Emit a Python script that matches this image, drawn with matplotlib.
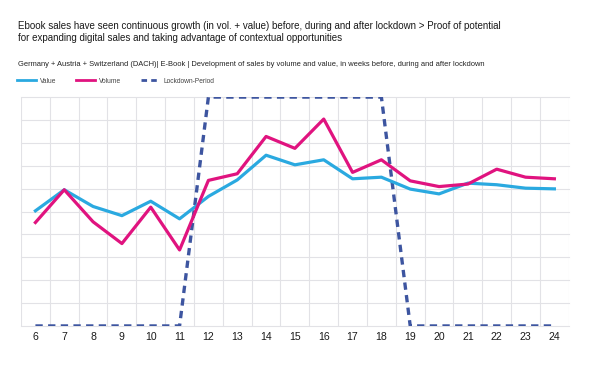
import matplotlib.pyplot as plt
from matplotlib.lines import Line2D

# weeks of the year
weeks = list(range(6, 25))

# index values (0-10 scale, no axis labels shown)
value = [5.03, 5.95, 5.22, 4.82, 5.45, 4.68, 5.66, 6.38, 7.46, 7.04,
         7.26, 6.43, 6.50, 5.98, 5.77, 6.24, 6.17, 6.02, 5.99]
volume = [4.52, 5.95, 4.55, 3.60, 5.19, 3.32, 6.36, 6.65, 8.28, 7.76,
          9.04, 6.71, 7.26, 6.34, 6.09, 6.20, 6.85, 6.50, 6.43]
lockdown = [0, 0, 0, 0, 0, 0, 10, 10, 10, 10,
            10, 10, 10, 0, 0, 0, 0, 0, 0]

c_value = '#2aa9e0'
c_volume = '#e0137f'
c_lock = '#3d55a0'

plt.rcParams['font.family'] = ['Liberation Sans', 'DejaVu Sans']

fig = plt.figure(figsize=(6, 3.65), dpi=100)
ax = fig.add_axes([0.035, 0.107, 0.913, 0.627])

ax.plot(weeks, lockdown, color=c_lock, lw=2.4, ls=(0, (2.2, 1.6)),
        solid_joinstyle='round', dash_joinstyle='round', zorder=3)
ax.plot(weeks, value, color=c_value, lw=2.3, zorder=4)
ax.plot(weeks, volume, color=c_volume, lw=2.3, zorder=5)

ax.set_xlim(5.5, 24.5)
ax.set_ylim(0, 10)
ax.set_xticks(weeks)
ax.set_xticks([w - 0.5 for w in weeks] + [24.5], minor=True)
ax.set_yticks(range(0, 11))
ax.set_yticklabels([])
ax.tick_params(axis='both', which='both', length=0)
ax.tick_params(axis='x', labelsize=7.6, pad=4, colors='#1a1a1a')
ax.grid(axis='y', which='major', color='#e2e2e6', lw=0.8)
ax.grid(axis='x', which='minor', color='#e2e2e6', lw=0.8)
for s in ax.spines.values():
    s.set_visible(False)
for ln in ax.get_ygridlines() + ax.get_xgridlines():
    ln.set_clip_on(False)

fig.text(0.03, 0.93, 'Ebook sales have seen continuous growth (in vol. + value) before, during and after lockdown > Proof of potential',
         fontsize=7.0, color='#1a1a1a', va='center')
fig.text(0.03, 0.897, 'for expanding digital sales and taking advantage of contextual opportunities',
         fontsize=7.0, color='#1a1a1a', va='center')
fig.text(0.03, 0.824, 'Germany + Austria + Switzerland (DACH)| E-Book | Development of sales by volume and value, in weeks before, during and after lockdown',
         fontsize=5.4, color='#222222', va='center')

handles = [Line2D([], [], color=c_value, lw=2),
           Line2D([], [], color=c_volume, lw=2),
           Line2D([], [], color=c_lock, lw=2, ls=(0, (2, 1.5)))]
fig.legend(handles, ['Value', 'Volume', 'Lockdown-Period'], loc='center left',
           bbox_to_anchor=(0.018, 0.778), ncol=3, frameon=False, fontsize=4.8,
           handlelength=2.9, handletextpad=0.6, columnspacing=2.9, labelcolor='#444444')

fig.savefig('out.png', dpi=100)
